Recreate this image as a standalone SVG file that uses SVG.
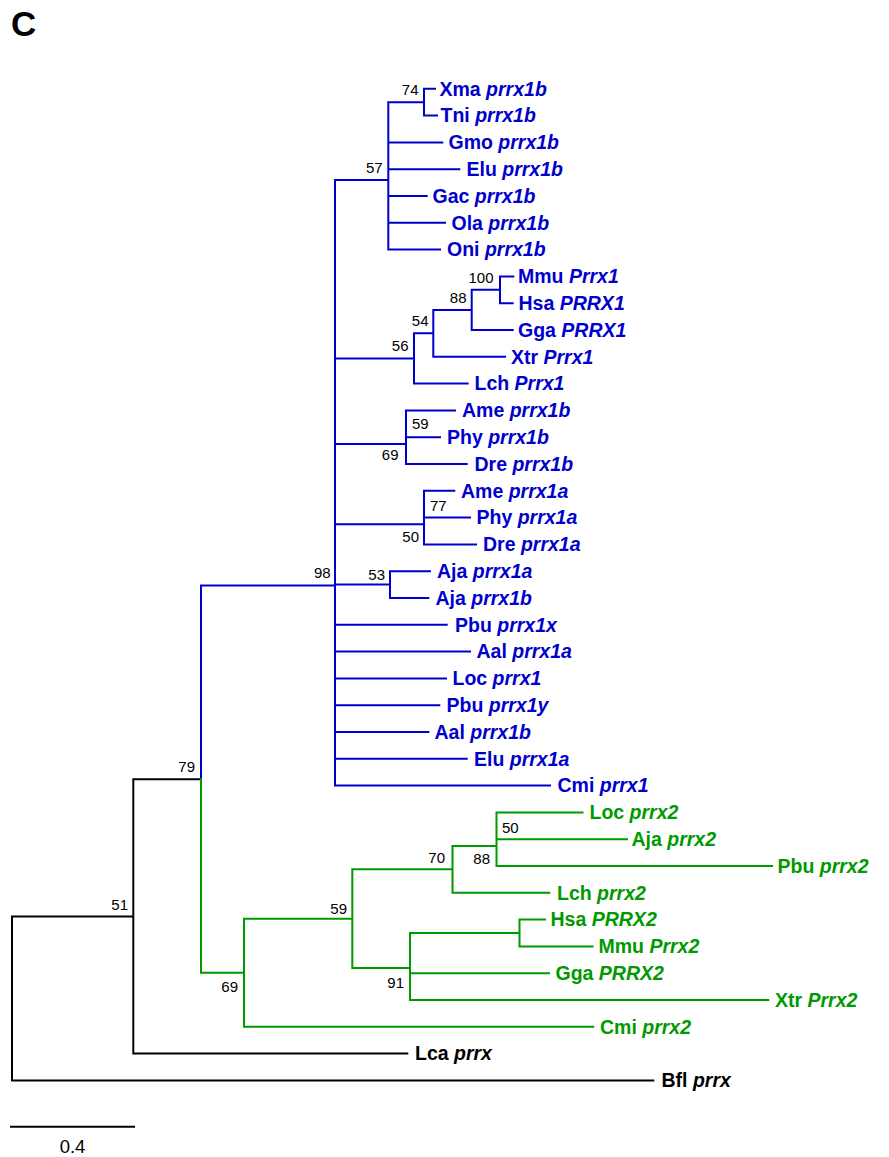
<svg xmlns="http://www.w3.org/2000/svg" width="889" height="1157" viewBox="0 0 889 1157">
<style>
.br{fill:none;stroke-width:2;stroke-linecap:square}
.k{stroke:#000}
.b{stroke:#0000cc}
.g{stroke:#009900}
.tip{font-family:"Liberation Sans",Arial,sans-serif;font-weight:bold;font-size:19.5px}
.tb{fill:#0000cc}
.tg{fill:#009900}
.tk{fill:#000}
.bs{font-family:"Liberation Sans",Arial,sans-serif;font-size:15px;fill:#000}
.e{text-anchor:end}
.it{font-style:italic}
</style>
<rect width="889" height="1157" fill="#fff"/>
<text x="11" y="36" font-family="Liberation Sans,Arial,sans-serif" font-weight="bold" font-size="35">C</text>
<g id="connectors">
<path class="br k" d="M12,916.4V1080.4H653.3M12,916.4H133.3M133.3,779.15V1053.6H407.3M133.3,779.15H201"/>
<path class="br b" d="M201,779.15V585.5H335M335,180V785.6H550M335,180H388.3M388.3,102.2V249.6H440M388.3,102.2H424M424,88.8V115.6M424,88.8H435M424,115.6H437M388.3,142.4H442.3M388.3,169.2H459.3M388.3,196H426.7M388.3,222.8H445
M335,358.5H414M414,333.35V383.6H467.7M414,333.35H433.3M433.3,309.9V356.8H505M433.3,309.9H471.7M471.7,289.8V330H512.7M471.7,289.8H500M500,276.4V303.2H512.7M500,276.4H513.3
M335,443.9H406M406,410.4V464H466.7M406,410.4H455M406,437.2H440
M335,524.3H424M424,490.8V544.4H476M424,490.8H454.3M424,517.6H470
M335,584.6H390M390,571.2V598H428.3M390,571.2H430
M335,624.8H446.7M335,651.6H470M335,678.4H446M335,705.2H439.3M335,732H428.3M335,758.8H466.7"/>
<path class="br g" d="M201,779.15V972.8H244M244,918.8V1026.8H593.3M244,918.8H352.3M352.3,869.35V968H410M352.3,869.35H452.5M452.5,845.9V892.8H549.3M452.5,845.9H496.5M496.5,812.4V866H772M496.5,812.4H582.5M496.5,839.2H627M410,933V1000H768.3M410,933H519.5M410,973.2H549M519.5,919.6V946.4H592.5M519.5,919.6H545"/>
</g>
<g id="bootstrap" class="bs">
<text class="e" x="418.5" y="95">74</text>
<text class="e" x="382.7" y="172.5">57</text>
<text class="e" x="493.5" y="282.5">100</text>
<text class="e" x="466.5" y="303">88</text>
<text class="e" x="428.5" y="326">54</text>
<text class="e" x="408.5" y="351">56</text>
<text x="412" y="428.5">59</text>
<text class="e" x="398.5" y="460">69</text>
<text x="430" y="511">77</text>
<text class="e" x="419" y="541.5">50</text>
<text class="e" x="385" y="580">53</text>
<text class="e" x="330.7" y="578">98</text>
<text class="e" x="195" y="772">79</text>
<text class="e" x="128" y="910">51</text>
<text class="e" x="347" y="914">59</text>
<text class="e" x="238" y="992">69</text>
<text class="e" x="445" y="862.5">70</text>
<text class="e" x="490" y="863.5">88</text>
<text x="502" y="832.5">50</text>
<text class="e" x="404" y="987.5">91</text>
</g>
<g class="tip tb">
<g id="xma-prrx1b"><text x="439.5" y="95.5">Xma <tspan class="it">prrx1b</tspan></text></g>
<g id="tni-prrx1b"><text x="440.5" y="122.3">Tni <tspan class="it">prrx1b</tspan></text></g>
<g id="gmo-prrx1b"><text x="448.5" y="149.1">Gmo <tspan class="it">prrx1b</tspan></text></g>
<g id="elu-prrx1b"><text x="466.5" y="175.9">Elu <tspan class="it">prrx1b</tspan></text></g>
<g id="gac-prrx1b"><text x="432.5" y="202.7">Gac <tspan class="it">prrx1b</tspan></text></g>
<g id="ola-prrx1b"><text x="451.5" y="229.5">Ola <tspan class="it">prrx1b</tspan></text></g>
<g id="oni-prrx1b"><text x="447" y="256.3">Oni <tspan class="it">prrx1b</tspan></text></g>
<g id="mmu-prrx1"><text x="518" y="283.1">Mmu <tspan class="it">Prrx1</tspan></text></g>
<g id="hsa-prrx1"><text x="518.5" y="309.9">Hsa <tspan class="it">PRRX1</tspan></text></g>
<g id="gga-prrx1"><text x="518" y="336.7">Gga <tspan class="it">PRRX1</tspan></text></g>
<g id="xtr-prrx1"><text x="511" y="363.5">Xtr <tspan class="it">Prrx1</tspan></text></g>
<g id="lch-prrx1"><text x="474.5" y="390.3">Lch <tspan class="it">Prrx1</tspan></text></g>
<g id="ame-prrx1b"><text x="462" y="417.1">Ame <tspan class="it">prrx1b</tspan></text></g>
<g id="phy-prrx1b"><text x="447" y="443.9">Phy <tspan class="it">prrx1b</tspan></text></g>
<g id="dre-prrx1b"><text x="474.5" y="470.7">Dre <tspan class="it">prrx1b</tspan></text></g>
<g id="ame-prrx1a"><text x="461" y="497.5">Ame <tspan class="it">prrx1a</tspan></text></g>
<g id="phy-prrx1a"><text x="476.5" y="524.3">Phy <tspan class="it">prrx1a</tspan></text></g>
<g id="dre-prrx1a"><text x="483" y="551.1">Dre <tspan class="it">prrx1a</tspan></text></g>
<g id="aja-prrx1a"><text x="437" y="577.9">Aja <tspan class="it">prrx1a</tspan></text></g>
<g id="aja-prrx1b"><text x="435.5" y="604.7">Aja <tspan class="it">prrx1b</tspan></text></g>
<g id="pbu-prrx1x"><text x="455" y="631.5">Pbu <tspan class="it">prrx1x</tspan></text></g>
<g id="aal-prrx1a"><text x="476.5" y="658.3">Aal <tspan class="it">prrx1a</tspan></text></g>
<g id="loc-prrx1"><text x="452.5" y="685.1">Loc <tspan class="it">prrx1</tspan></text></g>
<g id="pbu-prrx1y"><text x="446.5" y="711.9">Pbu <tspan class="it">prrx1y</tspan></text></g>
<g id="aal-prrx1b"><text x="434.5" y="738.7">Aal <tspan class="it">prrx1b</tspan></text></g>
<g id="elu-prrx1a"><text x="474" y="765.5">Elu <tspan class="it">prrx1a</tspan></text></g>
<g id="cmi-prrx1"><text x="557.5" y="792.3">Cmi <tspan class="it">prrx1</tspan></text></g>
</g>
<g class="tip tg">
<g id="loc-prrx2"><text x="589.5" y="819.1">Loc <tspan class="it">prrx2</tspan></text></g>
<g id="aja-prrx2"><text x="631.5" y="845.9">Aja <tspan class="it">prrx2</tspan></text></g>
<g id="pbu-prrx2"><text x="777.5" y="872.7">Pbu <tspan class="it">prrx2</tspan></text></g>
<g id="lch-prrx2"><text x="557" y="899.5">Lch <tspan class="it">prrx2</tspan></text></g>
<g id="hsa-prrx2"><text x="550.5" y="926.3">Hsa <tspan class="it">PRRX2</tspan></text></g>
<g id="mmu-prrx2"><text x="598.5" y="953.1">Mmu <tspan class="it">Prrx2</tspan></text></g>
<g id="gga-prrx2"><text x="555.5" y="979.9">Gga <tspan class="it">PRRX2</tspan></text></g>
<g id="xtr-prrx2"><text x="775" y="1006.7">Xtr <tspan class="it">Prrx2</tspan></text></g>
<g id="cmi-prrx2"><text x="600" y="1033.5">Cmi <tspan class="it">prrx2</tspan></text></g>
</g>
<g class="tip tk">
<g id="lca-prrx"><text x="415" y="1060.3">Lca <tspan class="it">prrx</tspan></text></g>
<g id="bfl-prrx"><text x="661.5" y="1087.1">Bfl <tspan class="it">prrx</tspan></text></g>
</g>
<g id="scale-bar">
<path class="br k" d="M11,1126.7H134" stroke-linecap="butt"/>
<text x="72.5" y="1153" text-anchor="middle" font-family="Liberation Sans,Arial,sans-serif" font-size="18.5">0.4</text>
</g>
</svg>
